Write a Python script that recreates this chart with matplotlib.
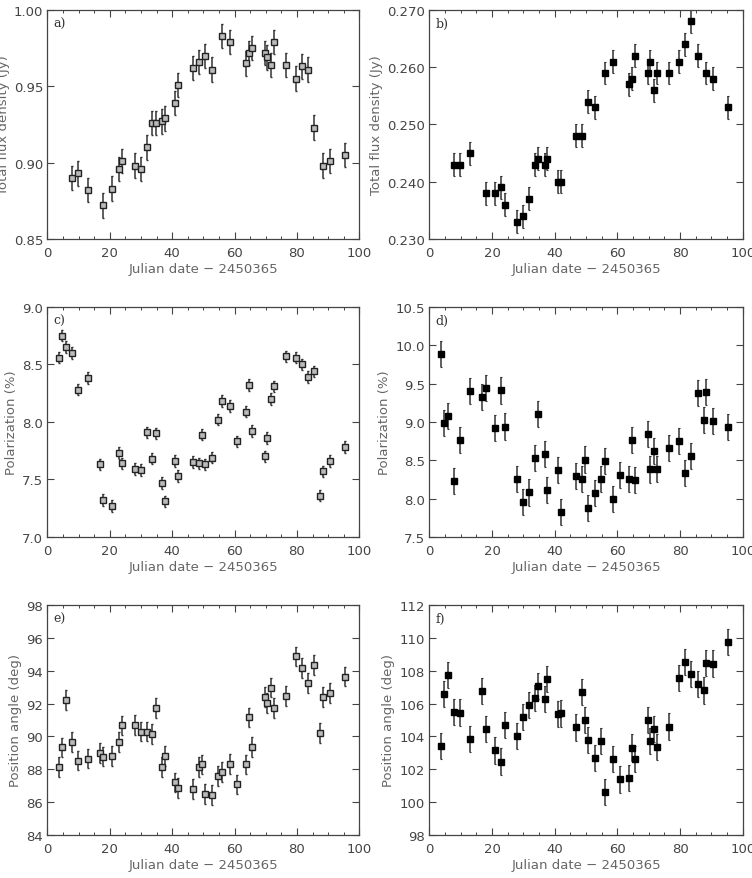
import numpy as np
import matplotlib.pyplot as plt

# observing dates (Julian date - 2450365)
flux_dates = [7.8, 9.8, 13.0, 18.0, 20.8, 23.0, 24.0, 28.0, 30.0, 31.8, 33.7, 34.8,
              36.9, 37.7, 40.9, 42.0, 46.8, 48.6, 50.6, 52.9, 56.0, 58.7, 63.6, 64.7,
              65.5, 69.7, 70.5, 71.7, 72.6, 76.5, 79.7, 81.5, 83.6, 85.6, 88.4, 90.5, 95.4]

pol_dates = [3.8, 4.8, 5.9, 7.8, 9.8, 13.0, 16.8, 18.0, 20.8, 23.0, 24.0, 28.0, 30.0,
             31.8, 33.7, 34.8, 36.9, 37.7, 40.9, 42.0, 46.8, 48.6, 49.7, 50.6, 52.9,
             54.7, 56.0, 58.7, 60.9, 63.6, 64.7, 65.5, 69.7, 70.5, 71.7, 72.6, 76.5,
             79.7, 81.5, 83.6, 85.6, 87.5, 88.4, 90.5, 95.4]

# a) total flux density, source 1
flux_a = [0.890, 0.893, 0.882, 0.872, 0.883, 0.896, 0.901, 0.898, 0.896, 0.910, 0.926,
          0.926, 0.927, 0.929, 0.939, 0.951, 0.962, 0.966, 0.970, 0.961, 0.983, 0.979,
          0.965, 0.972, 0.975, 0.972, 0.969, 0.964, 0.979, 0.964, 0.955, 0.963, 0.961,
          0.923, 0.898, 0.901, 0.905]
flux_a_err = 0.008

# b) total flux density, source 2
flux_b = [0.243, 0.243, 0.245, 0.238, 0.238, 0.239, 0.236, 0.233, 0.234, 0.237, 0.243,
          0.244, 0.243, 0.244, 0.240, 0.240, 0.248, 0.248, 0.254, 0.253, 0.259, 0.261,
          0.257, 0.258, 0.262, 0.259, 0.261, 0.256, 0.259, 0.259, 0.261, 0.264, 0.268,
          0.262, 0.259, 0.258, 0.253]
flux_b_err = 0.002

# c) polarization, source 1
pol_c = [8.56, 8.75, 8.65, 8.60, 8.28, 8.38, 7.63, 7.32, 7.27, 7.73, 7.64, 7.59, 7.58,
         7.91, 7.68, 7.90, 7.47, 7.31, 7.66, 7.53, 7.65, 7.64, 7.89, 7.63, 7.69, 8.02,
         8.18, 8.14, 7.83, 8.09, 8.32, 7.92, 7.70, 7.86, 8.20, 8.31, 8.57, 8.56, 8.50,
         8.39, 8.44, 7.36, 7.57, 7.66, 7.78]
pol_c_err = 0.05

# d) polarization, source 2
pol_d = [9.89, 8.99, 9.08, 8.23, 8.77, 9.40, 9.33, 9.44, 8.92, 9.41, 8.94, 8.26, 7.95,
         8.08, 8.53, 9.10, 8.58, 8.11, 8.37, 7.82, 8.30, 8.26, 8.51, 7.88, 8.07, 8.25,
         8.49, 7.99, 8.31, 8.26, 8.77, 8.24, 8.84, 8.38, 8.62, 8.39, 8.66, 8.75, 8.33,
         8.56, 9.38, 9.03, 9.39, 9.01, 8.93]
pol_d_err = 0.17

# e) position angle, source 1
pa_e = [88.14, 89.33, 92.2, 89.65, 88.53, 88.65, 89.0, 88.77, 88.8, 89.66, 90.67, 90.7,
        90.3, 90.3, 90.14, 91.72, 88.14, 88.83, 87.2, 86.88, 86.8, 88.12, 88.3, 86.5,
        86.45, 87.57, 87.85, 88.32, 87.08, 88.3, 91.16, 89.36, 92.38, 92.05, 92.97,
        91.75, 92.48, 94.87, 94.18, 93.25, 94.34, 90.19, 92.38, 92.64, 93.64]
pa_e_err = 0.6

# f) position angle, source 2
pa_f = [103.4, 106.6, 107.74, 105.47, 105.45, 103.86, 106.76, 104.47, 103.15, 102.47,
        104.68, 104.04, 105.19, 105.92, 106.34, 107.05, 106.28, 107.5, 105.36, 105.4,
        104.55, 106.72, 105.0, 103.78, 102.7, 103.74, 100.63, 102.62, 101.38, 101.45,
        103.32, 102.64, 104.99, 103.71, 104.47, 103.36, 104.6, 107.54, 108.51, 107.78,
        107.19, 106.8, 108.47, 108.43, 109.73]
pa_f_err = 0.8

plt.rcParams['font.family'] = ['DejaVu Sans']

fig = plt.figure(figsize=(7.52, 8.79), dpi=100)

left_x, left_w = 0.0629, 0.4149
right_x, right_w = 0.5709, 0.4168
rows = [(0.727, 0.2605), (0.388, 0.2617), (0.0489, 0.2617)]

panels = [
    ('a)', flux_dates, flux_a, flux_a_err, 'Total flux density (Jy)', (0.85, 1.00),
     [0.85, 0.90, 0.95, 1.00], '%.2f', False),
    ('b)', flux_dates, flux_b, flux_b_err, 'Total flux density (Jy)', (0.230, 0.270),
     [0.230, 0.240, 0.250, 0.260, 0.270], '%.3f', True),
    ('c)', pol_dates, pol_c, pol_c_err, 'Polarization (%)', (7.0, 9.0),
     [7.0, 7.5, 8.0, 8.5, 9.0], '%.1f', False),
    ('d)', pol_dates, pol_d, pol_d_err, 'Polarization (%)', (7.5, 10.5),
     [7.5, 8.0, 8.5, 9.0, 9.5, 10.0, 10.5], '%.1f', True),
    ('e)', pol_dates, pa_e, pa_e_err, 'Position angle (deg)', (84, 98),
     list(range(84, 99, 2)), '%d', False),
    ('f)', pol_dates, pa_f, pa_f_err, 'Position angle (deg)', (98, 112),
     list(range(98, 113, 2)), '%d', True),
]

for i, (tag, x, y, err, ylab, ylim, yticks, fmt, filled) in enumerate(panels):
    bottom, height = rows[i // 2]
    if i % 2 == 0:
        ax = fig.add_axes([left_x, bottom, left_w, height])
    else:
        ax = fig.add_axes([right_x, bottom, right_w, height])

    if filled:
        ax.errorbar(x, y, yerr=err, fmt='s', ms=4.3, mfc='black', mec='black',
                    ecolor='#333333', elinewidth=1.1, capsize=1.0, capthick=0.8)
    else:
        ax.errorbar(x, y, yerr=err, fmt='s', ms=4.0, mfc='#bbbbbb', mec='#222222',
                    mew=1.0, ecolor='#333333', elinewidth=1.1, capsize=1.0, capthick=0.8)

    ax.set_xlim(0, 100)
    ax.set_ylim(*ylim)
    ax.set_xticks([0, 20, 40, 60, 80, 100])
    ax.set_xticks(np.arange(0, 101, 5), minor=True)
    ax.set_yticks(yticks)
    ax.set_yticklabels([fmt % v for v in yticks])

    ax.tick_params(axis='both', which='major', direction='in', top=True, right=True,
                   length=5, width=0.8, color='#444444', labelsize=9.5,
                   labelcolor='#444444')
    ax.tick_params(axis='x', which='major', pad=5)
    ax.tick_params(axis='y', which='major', pad=3)
    ax.tick_params(axis='x', which='minor', direction='in', top=True, length=2.5,
                   width=0.7, color='#444444')
    for s in ax.spines.values():
        s.set_color('#444444')
        s.set_linewidth(0.9)

    ax.set_xlabel('Julian date \u2212 2450365', fontsize=9.5, color='#666666', labelpad=2)
    ax.set_ylabel(ylab, fontsize=9.5, color='#666666', labelpad=3)
    ax.text(0.02, 0.97, tag, transform=ax.transAxes, ha='left', va='top',
            fontsize=9, family='DejaVu Serif', color='#333333')

fig.savefig('out.png', dpi=100)
